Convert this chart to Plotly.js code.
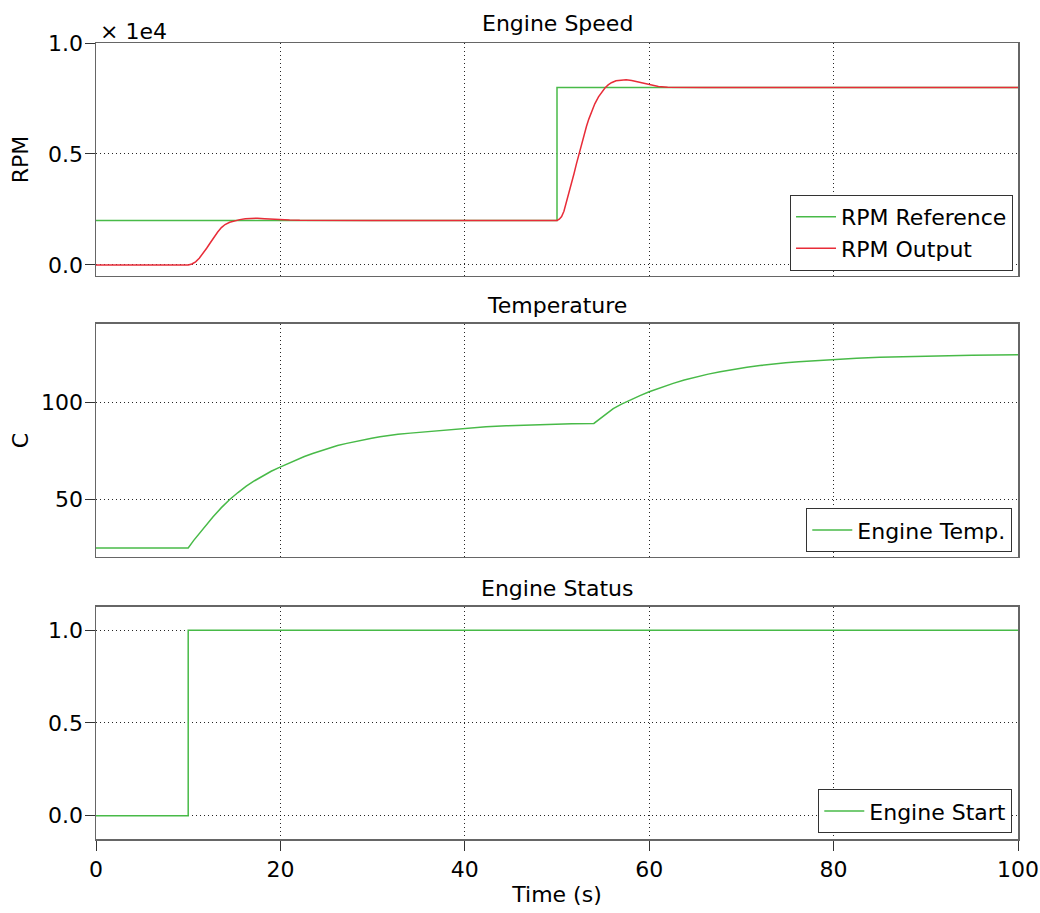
<!DOCTYPE html>
<html>
<head>
<meta charset="utf-8">
<script src="https://cdn.plot.ly/plotly-3.0.1.min.js"></script>
<style>html,body{margin:0;padding:0;background:#fff;}#chart{width:1040px;height:913px;}</style>
</head>
<body>
<div id="chart"></div>
<script>
// ---- data ----
const rpmRefTime = [0, 50, 100];
const rpmRefValues = [2000, 8000, 8000];

const rpmOutTime = [0, 10.0, 10.4, 10.8, 11.2, 11.6, 12.0, 12.4, 12.8, 13.2, 13.6, 14.0, 14.5, 15.0, 15.6, 16.2, 16.8, 17.5, 18.3, 19.1, 19.9, 21.0, 22.1, 23.5, 25, 30, 40, 50,
  50.25, 50.5, 50.75, 51.0, 51.3, 51.6, 51.85, 52.1, 52.4, 52.65, 52.9, 53.2, 53.45, 53.7, 54.1, 54.5, 54.85, 55.2, 55.55, 55.9, 56.4, 57.0, 57.5, 58.1, 58.8, 59.5, 60.2, 61.0, 62.0, 63.2, 66, 70, 80, 90, 100];
const rpmOutValues = [0, 0, 40, 140, 300, 510, 750, 1000, 1250, 1480, 1680, 1820, 1920, 1985, 2040, 2080, 2100, 2105, 2085, 2060, 2040, 2020, 2008, 2002, 2000, 2000, 2000, 2000,
  2060, 2180, 2420, 2780, 3230, 3700, 4120, 4540, 5040, 5450, 5840, 6250, 6570, 6870, 7260, 7570, 7790, 7970, 8110, 8210, 8295, 8333, 8340, 8305, 8235, 8160, 8095, 8040, 8008, 7996, 8000, 8000, 8000, 8000, 8000];

const tempTime = [0, 10, 10.6, 11.2, 11.9, 12.7, 13.6, 14.5, 15.4, 16.3, 17.2, 18.1, 19.0, 19.9, 20.8, 21.7, 22.6, 23.5, 24.4, 25.3, 26.2, 27.2, 28.1, 29.0, 29.9, 30.8, 31.8, 32.75, 34.1, 35.5, 37.8, 40.1, 42.3, 44.5, 46.8, 49.2, 51.6, 54.0,
  54.5, 55.0, 55.5, 56.1, 57.0, 57.9, 59.0, 60.0, 61.3, 62.6, 63.8, 65.1, 66.4, 67.7, 69.1, 70.6, 72.0, 73.4, 74.8, 76.2, 78.0, 80, 82.5, 85, 87.5, 90, 95, 100];
const tempValues = [25, 25, 28.9, 32.5, 36.7, 41.1, 45.8, 50.0, 53.6, 56.9, 59.7, 62.3, 64.6, 66.6, 68.6, 70.4, 72.2, 73.8, 75.3, 76.7, 77.9, 79.0, 80.0, 80.9, 81.7, 82.4, 83.1, 83.7, 84.3, 84.9, 86.0, 86.9, 87.6, 88.1, 88.5, 88.8, 89.1, 89.3,
  91.2, 93.0, 94.9, 97.0, 99.3, 101.4, 103.7, 105.7, 108.0, 110.0, 111.8, 113.4, 114.8, 116.0, 117.2, 118.3, 119.2, 120.0, 120.7, 121.2, 121.8, 122.4, 123.0, 123.5, 123.8, 124.1, 124.5, 124.8];

const statusTime = [0, 10, 100];
const statusValues = [0, 1, 1];

const xTicks = [0, 20, 40, 60, 80, 100];
const rpmTickVals = [0, 5000, 10000];
const rpmTickText = ['0.0', '0.5', '1.0'];
const tempTickVals = [50, 100];
const statusTickVals = [0, 0.5, 1];

const subplotTitles = ['Engine Speed', 'Temperature', 'Engine Status'];

// ---- styling ----
const FONT = 'DejaVu Sans, Verdana, sans-serif';
const GREEN = 'rgb(72,186,72)';
const RED = 'rgb(232,44,56)';
const AXC = '#666';
const GRIDC = 'rgba(0,0,0,0.85)';

const traces = [
  {x: rpmRefTime, y: rpmRefValues, name: 'RPM Reference', mode: 'lines', line: {color: GREEN, width: 1.5, shape: 'hv'}, xaxis: 'x', yaxis: 'y', legend: 'legend'},
  {x: rpmOutTime, y: rpmOutValues, name: 'RPM Output', mode: 'lines', line: {color: RED, width: 1.5}, xaxis: 'x', yaxis: 'y', legend: 'legend'},
  {x: tempTime, y: tempValues, name: 'Engine Temp.', mode: 'lines', line: {color: GREEN, width: 1.5}, xaxis: 'x2', yaxis: 'y2', legend: 'legend2'},
  {x: statusTime, y: statusValues, name: 'Engine Start', mode: 'lines', line: {color: GREEN, width: 1.5, shape: 'hv'}, xaxis: 'x3', yaxis: 'y3', legend: 'legend3'}
];

function xAxis(anchor, showLabels) {
  return {
    anchor: anchor, domain: [0, 1], range: [0, 100], tickvals: xTicks,
    showticklabels: showLabels, ticks: showLabels ? 'outside' : '', ticklen: 10, tickcolor: '#333',
    showgrid: true, gridcolor: GRIDC, griddash: '1px,3px', gridwidth: 1,
    showline: true, mirror: true, linecolor: AXC, linewidth: 1.5,
    zeroline: false, tickfont: {family: FONT, size: 22, color: '#000'}
  };
}
function yAxis(anchor, domain, range, extra) {
  return Object.assign({
    anchor: anchor, domain: domain, range: range,
    ticks: 'outside', ticklen: 10, tickcolor: '#333', ticklabelstandoff: -3,
    showgrid: true, gridcolor: GRIDC, griddash: '1px,3px', gridwidth: 1,
    showline: true, mirror: true, linecolor: AXC, linewidth: 1.5,
    zeroline: false, tickfont: {family: FONT, size: 22, color: '#000'}
  }, extra);
}

const legendBase = {
  font: {family: FONT, size: 22, color: '#000'}, bgcolor: '#fff', bordercolor: '#333', borderwidth: 1,
  xref: 'paper', yref: 'paper', xanchor: 'right', yanchor: 'bottom', itemwidth: 40
};

const layout = {
  width: 1040, height: 913,
  margin: {l: 96, r: 22, t: 43, b: 74},
  paper_bgcolor: '#fff', plot_bgcolor: '#fff',
  font: {family: FONT, size: 22, color: '#000'},
  xaxis: xAxis('y', false),
  xaxis2: xAxis('y2', false),
  xaxis3: Object.assign(xAxis('y3', true), {title: {text: 'Time (s)', font: {family: FONT, size: 22}, standoff: 5}}),
  yaxis: yAxis('x', [0.7073, 1], [-500, 10000], {tickvals: rpmTickVals, ticktext: rpmTickText, title: {text: 'RPM', font: {family: FONT, size: 22}, standoff: 13}}),
  yaxis2: yAxis('x2', [0.3543, 0.647], [20.3, 140.7], {tickvals: tempTickVals, title: {text: 'C', font: {family: FONT, size: 22}, standoff: 6}}),
  yaxis3: yAxis('x3', [0, 0.2915], [-0.125, 1.125], {tickvals: statusTickVals, tickformat: '.1f'}),
  showlegend: true,
  legend: Object.assign({}, legendBase, {x: 0.9946, y: 0.7136}),
  legend2: Object.assign({}, legendBase, {x: 0.9938, y: 0.3602}),
  legend3: Object.assign({}, legendBase, {x: 0.9938, y: 0.0072}),
  annotations: [
    {text: subplotTitles[0], xref: 'paper', yref: 'paper', x: 0.5, y: 1.0251, xanchor: 'center', yanchor: 'middle', showarrow: false, font: {family: FONT, size: 22, color: '#000'}},
    {text: subplotTitles[1], xref: 'paper', yref: 'paper', x: 0.5, y: 0.6696, xanchor: 'center', yanchor: 'middle', showarrow: false, font: {family: FONT, size: 22, color: '#000'}},
    {text: subplotTitles[2], xref: 'paper', yref: 'paper', x: 0.5, y: 0.3153, xanchor: 'center', yanchor: 'middle', showarrow: false, font: {family: FONT, size: 22, color: '#000'}},
    {text: '× 1e4', xref: 'paper', yref: 'paper', x: 0, y: 1.015, xanchor: 'left', yanchor: 'middle', xshift: 2, showarrow: false, font: {family: FONT, size: 22, color: '#000'}}
  ]
};

Plotly.newPlot('chart', traces, layout, {displayModeBar: false, staticPlot: true});
</script>
</body>
</html>
